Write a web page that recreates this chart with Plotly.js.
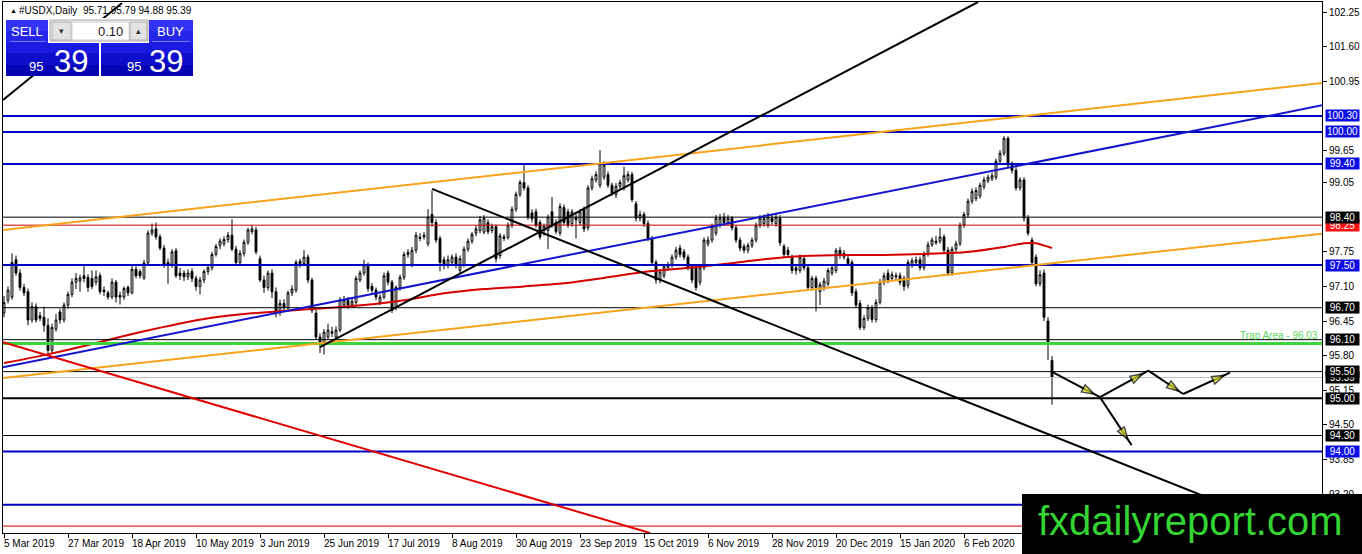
<!DOCTYPE html>
<html>
<head>
<meta charset="utf-8">
<script src="https://cdn.plot.ly/plotly-3.0.1.min.js"></script>
<style>
  html, body { margin: 0; padding: 0; background: #fff; }
  #chart { width: 1362px; height: 554px; }
</style>
</head>
<body>
<div id="chart"></div>
<script>
// #USDX daily candles, 5 Mar 2019 .. 9 Mar 2020 (bar index = position on x)
const opens = [
  96.60, 96.84, 96.90, 97.60, 97.35, 97.08, 97.00, 96.47, 96.72, 96.55,
  96.52, 96.37, 95.90, 96.30, 96.62, 96.47, 96.75, 96.95, 97.18, 97.20,
  97.30, 97.27, 97.25, 97.18, 97.30, 97.03, 96.98, 96.90, 97.18, 96.93,
  96.90, 97.08, 96.98, 97.42, 97.38, 97.26, 97.54, 98.10, 98.18, 98.03,
  97.82, 97.55, 97.50, 97.77, 97.35, 97.35, 97.28, 97.38, 97.25, 97.10,
  97.22, 97.38, 97.45, 97.70, 97.87, 97.90, 97.98, 98.06, 97.80, 97.55,
  97.72, 97.93, 98.13, 98.16, 97.62, 97.22, 97.08, 97.35, 97.00, 96.63,
  96.78, 96.70, 96.98, 97.03, 97.57, 97.53, 97.65, 97.22, 96.60, 96.15,
  96.05, 96.15, 96.25, 96.15, 96.28, 96.75, 96.84, 96.75, 96.80, 97.22,
  97.35, 97.50, 97.10, 97.03, 96.80, 96.90, 97.35, 97.18, 96.70, 97.08,
  97.27, 97.70, 97.50, 97.78, 98.00, 98.03, 97.90, 98.45, 98.30, 98.00,
  97.60, 97.50, 97.55, 97.65, 97.40, 97.50, 97.80, 97.95, 98.10, 98.15,
  98.12, 98.30, 98.15, 98.22, 97.68, 98.00, 98.02, 98.25, 98.55, 98.83,
  99.05, 98.95, 98.48, 98.50, 98.30, 98.15, 98.15, 98.50, 98.30, 98.10,
  98.58, 98.50, 98.28, 98.40, 98.30, 98.55, 98.20, 98.95, 99.10, 99.00,
  99.15, 99.20, 99.00, 98.82, 98.98, 98.95, 99.10, 99.20, 98.65, 98.38,
  98.45, 98.28, 98.00, 97.55, 97.22, 97.30, 97.45, 97.50, 97.65, 97.82,
  97.75, 97.65, 97.47, 97.45, 97.18, 97.45, 97.90, 97.97, 98.10, 98.25,
  98.40, 98.30, 98.38, 98.20, 97.97, 97.85, 97.78, 97.87, 97.97, 98.25,
  98.28, 98.25, 98.38, 98.28, 98.38, 97.85, 97.78, 97.65, 97.45, 97.40,
  97.62, 97.45, 97.08, 97.25, 97.00, 97.08, 97.15, 97.35, 97.40, 97.78,
  97.65, 97.62, 97.55, 97.00, 96.78, 96.33, 96.50, 96.70, 96.48, 96.80,
  97.18, 97.35, 97.25, 97.28, 97.30, 97.25, 97.12, 97.50, 97.55, 97.60,
  97.45, 97.72, 97.88, 97.92, 97.95, 98.03, 97.78, 97.35, 97.80, 97.90,
  98.25, 98.45, 98.70, 98.75, 98.80, 98.97, 99.08, 99.12, 99.15, 99.45,
  99.60, 99.88, 99.40, 99.28, 98.95, 99.10, 98.38, 97.97, 97.65, 97.15,
  97.35, 96.45, 95.71
];
const highs = [
  96.92, 97.10, 97.72, 97.68, 97.42, 97.15, 97.06, 96.80, 96.78, 96.62,
  96.72, 96.50, 96.40, 96.58, 96.68, 96.80, 97.00, 97.25, 97.35, 97.32,
  97.50, 97.33, 97.40, 97.40, 97.36, 97.10, 97.02, 97.25, 97.22, 97.00,
  97.10, 97.12, 97.48, 97.48, 97.42, 97.60, 98.15, 98.28, 98.30, 98.08,
  97.88, 97.62, 97.80, 97.82, 97.45, 97.40, 97.42, 97.44, 97.30, 97.28,
  97.42, 97.50, 97.75, 97.90, 98.00, 98.04, 98.12, 98.36, 97.86, 97.78,
  97.98, 98.20, 98.25, 98.22, 97.68, 97.30, 97.40, 97.42, 97.08, 96.85,
  96.86, 97.02, 97.12, 97.60, 97.62, 97.78, 97.70, 97.26, 96.66, 96.22,
  96.30, 96.40, 96.34, 96.35, 96.90, 96.92, 96.90, 96.88, 97.30, 97.40,
  97.60, 97.55, 97.16, 97.08, 96.95, 97.36, 97.40, 97.22, 97.12, 97.32,
  97.75, 97.80, 97.84, 98.12, 98.10, 98.12, 98.55, 98.90, 98.36, 98.05,
  97.66, 97.68, 97.70, 97.72, 97.68, 97.85, 98.00, 98.12, 98.24, 98.42,
  98.44, 98.36, 98.28, 98.26, 98.10, 98.08, 98.30, 98.60, 98.88, 99.10,
  99.38, 99.00, 98.55, 98.56, 98.35, 98.28, 98.45, 98.78, 98.36, 98.66,
  98.64, 98.56, 98.55, 98.46, 98.55, 98.60, 99.00, 99.18, 99.26, 99.66,
  99.45, 99.26, 99.05, 99.04, 99.10, 99.35, 99.26, 99.25, 98.70, 98.52,
  98.50, 98.34, 98.05, 97.60, 97.42, 97.52, 97.56, 97.70, 97.84, 97.88,
  97.80, 97.70, 97.52, 97.50, 97.50, 98.02, 98.04, 98.28, 98.44, 98.46,
  98.48, 98.44, 98.42, 98.25, 98.02, 97.90, 97.92, 98.02, 98.30, 98.44,
  98.45, 98.48, 98.44, 98.48, 98.44, 97.90, 97.84, 97.70, 97.50, 97.70,
  97.68, 97.50, 97.30, 97.30, 97.18, 97.26, 97.45, 97.50, 97.82, 97.84,
  97.78, 97.68, 97.60, 97.06, 96.84, 96.56, 96.76, 96.75, 96.86, 97.24,
  97.36, 97.42, 97.38, 97.36, 97.36, 97.30, 97.60, 97.64, 97.66, 97.66,
  97.76, 97.94, 98.02, 98.05, 98.20, 98.08, 97.84, 97.85, 97.96, 98.30,
  98.50, 98.75, 98.94, 98.96, 99.05, 99.16, 99.20, 99.24, 99.50, 99.66,
  99.92, 99.92, 99.45, 99.34, 99.15, 99.15, 98.44, 98.02, 97.70, 97.40,
  97.42, 96.52, 95.79
];
const lows = [
  96.52, 96.78, 96.85, 97.30, 97.02, 96.92, 96.37, 96.42, 96.42, 96.45,
  96.25, 95.80, 95.85, 96.25, 96.40, 96.42, 96.68, 96.90, 97.05, 97.00,
  97.18, 97.00, 97.05, 97.12, 96.95, 96.92, 96.85, 96.86, 96.80, 96.76,
  96.85, 96.92, 96.95, 97.25, 97.25, 97.22, 97.50, 98.05, 97.98, 97.78,
  97.45, 97.15, 97.45, 97.26, 97.22, 97.20, 97.22, 97.18, 97.02, 96.95,
  97.16, 97.32, 97.40, 97.66, 97.80, 97.85, 97.92, 97.76, 97.50, 97.50,
  97.66, 97.88, 98.08, 97.70, 97.18, 96.98, 97.02, 96.88, 96.52, 96.55,
  96.62, 96.65, 96.92, 96.98, 97.45, 97.48, 97.16, 96.60, 96.10, 95.85,
  95.82, 96.10, 96.15, 96.10, 96.24, 96.70, 96.68, 96.70, 96.76, 97.18,
  97.30, 97.00, 96.98, 96.84, 96.75, 96.86, 97.12, 96.60, 96.65, 97.02,
  97.22, 97.64, 97.46, 97.72, 97.95, 97.98, 97.85, 98.22, 97.92, 97.38,
  97.42, 97.44, 97.50, 97.44, 97.35, 97.46, 97.75, 97.90, 98.04, 98.10,
  98.08, 98.08, 98.10, 97.55, 97.62, 97.95, 97.98, 98.20, 98.50, 98.78,
  98.90, 98.35, 98.30, 98.20, 97.98, 98.05, 97.80, 98.20, 98.08, 98.05,
  98.25, 98.20, 98.22, 98.00, 98.25, 98.12, 98.15, 98.90, 99.05, 98.95,
  99.10, 98.95, 98.80, 98.76, 98.92, 98.90, 99.05, 98.68, 98.32, 98.32,
  98.22, 97.95, 97.50, 97.15, 97.16, 97.25, 97.40, 97.45, 97.60, 97.64,
  97.60, 97.40, 97.16, 97.02, 97.12, 97.40, 97.85, 97.92, 98.05, 98.20,
  98.24, 98.25, 98.15, 97.92, 97.76, 97.72, 97.72, 97.82, 97.92, 98.20,
  98.22, 98.20, 98.26, 98.22, 97.86, 97.65, 97.64, 97.34, 97.32, 97.35,
  97.40, 97.02, 97.02, 96.63, 96.75, 97.02, 97.10, 97.30, 97.35, 97.62,
  97.60, 97.48, 96.92, 96.70, 96.28, 96.28, 96.45, 96.42, 96.42, 96.76,
  97.12, 97.16, 97.20, 97.22, 97.12, 97.02, 97.06, 97.45, 97.50, 97.40,
  97.40, 97.66, 97.84, 97.88, 97.90, 97.72, 97.30, 97.30, 97.75, 97.86,
  98.20, 98.40, 98.65, 98.70, 98.75, 98.92, 99.04, 99.08, 99.10, 99.40,
  99.55, 99.32, 99.22, 98.90, 98.90, 98.32, 98.05, 97.50, 97.10, 97.10,
  96.45, 95.72, 94.88
];
const closes = [
  96.80, 97.03, 97.55, 97.35, 97.08, 96.98, 96.47, 96.72, 96.47, 96.50,
  96.37, 95.90, 96.33, 96.47, 96.47, 96.75, 96.95, 97.18, 97.25, 97.26,
  97.25, 97.08, 97.10, 97.28, 97.00, 97.00, 96.90, 97.18, 96.90, 96.90,
  97.06, 96.98, 97.42, 97.30, 97.30, 97.54, 98.10, 98.16, 98.03, 97.82,
  97.50, 97.50, 97.75, 97.30, 97.30, 97.28, 97.35, 97.25, 97.10, 97.22,
  97.38, 97.45, 97.70, 97.85, 97.95, 97.98, 98.06, 97.80, 97.55, 97.72,
  97.93, 98.16, 98.18, 97.75, 97.22, 97.08, 97.35, 97.00, 96.60, 96.78,
  96.70, 96.98, 97.05, 97.55, 97.53, 97.65, 97.22, 96.65, 96.15, 96.05,
  96.24, 96.28, 96.22, 96.28, 96.84, 96.84, 96.75, 96.82, 97.25, 97.35,
  97.50, 97.06, 97.03, 96.90, 96.90, 97.30, 97.18, 96.65, 97.08, 97.27,
  97.70, 97.74, 97.78, 98.06, 98.02, 98.06, 98.40, 98.30, 97.97, 97.55,
  97.50, 97.60, 97.65, 97.50, 97.62, 97.80, 97.95, 98.08, 98.18, 98.35,
  98.38, 98.13, 98.22, 97.62, 98.05, 98.03, 98.25, 98.55, 98.83, 99.05,
  98.95, 98.40, 98.37, 98.25, 98.03, 98.23, 98.40, 98.25, 98.13, 98.60,
  98.30, 98.25, 98.50, 98.35, 98.50, 98.18, 98.95, 99.12, 99.20, 99.40,
  99.38, 99.00, 98.85, 98.98, 99.05, 99.18, 99.20, 98.73, 98.38, 98.45,
  98.28, 98.00, 97.55, 97.22, 97.37, 97.47, 97.50, 97.65, 97.78, 97.70,
  97.65, 97.45, 97.22, 97.08, 97.45, 97.97, 97.97, 98.22, 98.38, 98.38,
  98.30, 98.38, 98.20, 97.97, 97.82, 97.78, 97.87, 97.97, 98.25, 98.38,
  98.38, 98.40, 98.32, 98.40, 97.92, 97.70, 97.70, 97.40, 97.40, 97.65,
  97.45, 97.08, 97.25, 97.08, 97.13, 97.20, 97.40, 97.45, 97.77, 97.68,
  97.72, 97.53, 96.98, 96.75, 96.33, 96.50, 96.70, 96.48, 96.80, 97.18,
  97.30, 97.22, 97.32, 97.30, 97.18, 97.10, 97.55, 97.58, 97.60, 97.45,
  97.70, 97.88, 97.97, 97.95, 98.03, 97.78, 97.35, 97.80, 97.90, 98.25,
  98.45, 98.70, 98.88, 98.90, 99.00, 99.10, 99.15, 99.18, 99.45, 99.60,
  99.88, 99.38, 99.28, 98.95, 99.10, 98.38, 98.10, 97.55, 97.15, 97.32,
  96.52, 96.05, 95.39
];

// red moving average, sampled at these bars
const maBars = [0, 10, 20, 30, 40, 50, 60, 70, 80, 90, 100, 110, 120, 130, 140,
                150, 160, 170, 180, 190, 200, 210, 220, 230, 240, 250, 255, 258, 262];
const maVals = [95.66, 95.81, 95.98, 96.17, 96.34, 96.49, 96.58, 96.64, 96.69, 96.75,
                96.84, 96.97, 97.05, 97.10, 97.16, 97.26, 97.37, 97.44, 97.52, 97.61,
                97.67, 97.69, 97.69, 97.71, 97.74, 97.84, 97.91, 97.91, 97.82];

// x-axis date labels, one every 16 bars
const tickBars = [0, 16, 32, 48, 64, 80, 96, 112, 128, 144, 160, 176, 192, 208, 224, 240];
const tickDates = ["5 Mar 2019", "27 Mar 2019", "18 Apr 2019", "10 May 2019", "3 Jun 2019",
                   "25 Jun 2019", "17 Jul 2019", "8 Aug 2019", "30 Aug 2019", "23 Sep 2019",
                   "15 Oct 2019", "6 Nov 2019", "28 Nov 2019", "20 Dec 2019", "15 Jan 2020",
                   "6 Feb 2020"];

// price scale labels
const yTicks = [102.25, 101.60, 100.95, 99.65, 99.05, 97.75, 97.10, 96.45, 95.80, 95.15, 94.50, 93.85, 93.20];
const yTickText = ["102.25", "101.60", "100.95", "99.65", "99.05", "97.75", "97.10", "96.45",
                   "95.80", "95.15", "94.50", "93.85", "93.20"];

// horizontal levels
const levelPrices = [100.30, 100.00, 99.40, 98.40, 98.25, 97.50, 96.70, 96.10, 96.03,
                     95.50, 95.39, 95.00, 94.30, 94.00, 93.00, 92.60];
const levelKinds  = ["blue", "blue", "blue", "black", "red", "blue", "black", "black", "green",
                     "black", "bid", "thick", "black", "blue", "blue", "red"];

// tagged levels on the price scale (drawn in this order)
const tagPrices = [100.30, 100.00, 99.40, 98.25, 98.40, 97.50, 96.70, 96.10, 95.39, 95.50, 95.00, 94.30, 94.00];
const tagKinds  = ["blue", "blue", "blue", "red", "black", "blue", "black", "black", "black",
                   "black", "black", "black", "blue"];

const trapPrice = 96.03;

// trendlines: [bar0, bar1], [price0, price1]
const orangeUpX = [-0.25, 329.5],  orangeUpY = [98.16, 100.92];
const orangeLowX = [-0.25, 329.5], orangeLowY = [95.38, 98.09];
const blueTrendX = [-0.25, 329.5], blueTrendY = [95.58, 100.50];
const blackShortX = [-0.25, 29.5], blackShortY = [100.60, 102.42];
const blackRiseX = [79, 243.5],    blackRiseY = [95.96, 102.44];
const blackFallX = [107, 329.5],   blackFallY = [98.93, 92.28];
const redFallX = [-0.25, 161.5],   redFallY = [96.05, 92.47];

// projected path arrows
const pathBars   = [261.9, 274.0, 286.1, 294.8, 306.5, 281.9];
const pathPrices = [95.50, 95.02, 95.52, 95.08, 95.48, 94.12];
const pathLegs   = [[0, 1], [1, 2], [2, 3], [3, 4], [1, 5]];
const HEAD_AT = 0.88;   // arrowhead tip sits a little before the leg end

const FONT = "Liberation Sans, Arial, sans-serif";
const KIND_STYLE = {
    blue:  { color: "#0000c0", width: 2 },
    black: { color: "#000000", width: 1 },
    thick: { color: "#000000", width: 2 },
    red:   { color: "#c80000", width: 1 },
    green: { color: "#3ad63a", width: 3 },
    bid:   { color: "#c0c0c0", width: 1 },
};
const TAG_BG = { blue: "#0c0ce6", black: "#000000", red: "#ff1010" };

// pixel -> paper helpers for the plot box (x 3..1322, y 2..533)
const px = x => (x - 3) / 1319;
const py = y => (533 - y) / 531;

const traces = [];

traces.push({
    type: "candlestick",
    x: opens.map((_, i) => i),
    open: opens, high: highs, low: lows, close: closes,
    increasing: { line: { color: "#000", width: 1 }, fillcolor: "#ffffff" },
    decreasing: { line: { color: "#000", width: 1 }, fillcolor: "#000000" },
    whiskerwidth: 0,
    hoverinfo: "skip",
});

traces.push({
    type: "scatter", mode: "lines", x: maBars, y: maVals,
    line: { color: "#d40000", width: 2, shape: "spline", smoothing: 0.6 },
    hoverinfo: "skip",
});

levelPrices.forEach((p, i) => {
    const st = KIND_STYLE[levelKinds[i]];
    traces.push({
        type: "scatter", mode: "lines", x: [-1, 331], y: [p, p],
        line: { color: st.color, width: st.width }, hoverinfo: "skip",
    });
});

function seg(x, y, color, width) {
    traces.push({ type: "scatter", mode: "lines", x: x, y: y,
                  line: { color: color, width: width }, hoverinfo: "skip" });
}
seg(orangeUpX, orangeUpY, "#f5a41c", 2);
seg(orangeLowX, orangeLowY, "#f5a41c", 2);
seg(blueTrendX, blueTrendY, "#1414cc", 2);
seg(redFallX, redFallY, "#e00000", 2);
seg(blackShortX, blackShortY, "#000", 2);
seg(blackRiseX, blackRiseY, "#000", 2);
seg(blackFallX, blackFallY, "#000", 2);

pathLegs.forEach(([a, b]) => {
    const hx = pathBars[a] + (pathBars[b] - pathBars[a]) * HEAD_AT;
    const hy = pathPrices[a] + (pathPrices[b] - pathPrices[a]) * HEAD_AT;
    traces.push({
        type: "scatter", mode: "lines+markers",
        x: [pathBars[a], hx, pathBars[b]], y: [pathPrices[a], hy, pathPrices[b]],
        line: { color: "#000", width: 2, backoff: 0 },
        marker: { symbol: "arrow", angleref: "previous", size: [0, 13, 0],
                  color: "#e2e21e", line: { color: "#000", width: 1.5 } },
        hoverinfo: "skip",
    });
});

// ---- overlay shapes (trade panel, watermark)
function rect(x0, y0, x1, y1, fill, line) {
    return { type: "rect", xref: "paper", yref: "paper", layer: "above",
             x0: px(x0), x1: px(x1), y0: py(y1), y1: py(y0),
             fillcolor: fill, line: { color: line || fill, width: line ? 1 : 0 } };
}
const shapes = [
    rect(6, 20, 99, 31, "#3434f4"), rect(6, 31, 99, 42, "#2626ea"),
    rect(6, 42, 99, 53, "#1a1ae0"), rect(6, 53, 99, 65, "#0e0ecc"), rect(6, 65, 99, 76, "#0404b2"),
    rect(101, 20, 193, 31, "#3434f4"), rect(101, 31, 193, 42, "#2626ea"),
    rect(101, 42, 193, 53, "#1a1ae0"), rect(101, 53, 193, 65, "#0e0ecc"), rect(101, 65, 193, 76, "#0404b2"),
    rect(48, 18, 149, 43, "#ffffff"),
    rect(50, 20, 148, 41, "#f0f0f0", "#a8a8a8"),
    rect(52, 22, 71, 40, "#e2e2e2", "#b0b0b0"),
    rect(72, 22, 129, 40, "#ffffff", "#d0d0d0"),
    rect(130, 22, 147, 40, "#e2e2e2", "#b0b0b0"),
    { type: "line", xref: "paper", yref: "paper", layer: "above",
      x0: px(10), x1: px(46), y0: py(41.5), y1: py(41.5), line: { color: "#7a7aff", width: 1 } },
    { type: "line", xref: "paper", yref: "paper", layer: "above",
      x0: px(152), x1: px(190), y0: py(41.5), y1: py(41.5), line: { color: "#7a7aff", width: 1 } },
    rect(1022, 494, 1362, 554, "#000000"),
];

const annotations = [];
function txt(x, y, text, size, color, anchor, extra) {
    annotations.push(Object.assign({
        xref: "paper", yref: "paper", x: px(x), y: py(y), text: text, showarrow: false,
        xanchor: anchor || "center", yanchor: "middle",
        font: { family: FONT, size: size, color: color },
    }, extra || {}));
}

const last = closes.length - 1;
txt(8, 11, "▲", 7, "#000", "left");
txt(17, 11, "#USDX,Daily  " + [opens[last], highs[last], lows[last], closes[last]]
    .map(v => v.toFixed(2)).join(" "), 10, "#000", "left");

txt(27, 31, "SELL", 13, "#fff");
txt(170, 31, "BUY", 13, "#fff");
txt(125, 31, "0.10", 13, "#1a1a1a", "right");
txt(61.5, 31, "▾", 9, "#333");
txt(138.5, 31, "▴", 9, "#333");
const pip = closes[last].toFixed(2).split(".");
txt(45, 66, pip[0], 13, "#fff", "right");
txt(52, 62, pip[1], 31, "#fff", "left");
txt(143, 66, pip[0], 13, "#fff", "right");
txt(147, 62, pip[1], 31, "#fff", "left");

tickBars.forEach((b, i) => {
    annotations.push({
        xref: "x", yref: "paper", x: b, y: 0, yshift: -3, xshift: -2,
        xanchor: "left", yanchor: "top", showarrow: false, text: tickDates[i],
        font: { family: FONT, size: 10, color: "#000" },
    });
});

annotations.push({
    xref: "paper", yref: "y", x: 1, xshift: -2, y: trapPrice, yanchor: "bottom",
    xanchor: "right", showarrow: false, text: "Trap Area - " + trapPrice.toFixed(2),
    font: { family: FONT, size: 10, color: "#5ad85a" },
});

tagPrices.forEach((p, i) => {
    annotations.push({
        xref: "paper", yref: "y", x: 1, xshift: 3, y: p, xanchor: "left", yanchor: "middle",
        showarrow: false, text: p.toFixed(2), bgcolor: TAG_BG[tagKinds[i]],
        width: 33, height: 11, borderpad: 0, align: "center",
        font: { family: FONT, size: 10, color: "#fff" },
    });
});

txt(1190, 521, "fxdailyreport.com", 40, "#33d433");

const layout = {
    width: 1362, height: 554,
    margin: { l: 3, r: 40, t: 2, b: 21, pad: 0 },
    paper_bgcolor: "#ffffff", plot_bgcolor: "#ffffff",
    showlegend: false,
    boxgap: 0.35,
    font: { family: FONT, size: 10, color: "#000" },
    xaxis: {
        type: "linear", range: [-0.25, 329.5],
        showgrid: false, zeroline: false,
        showline: true, mirror: true, linecolor: "#000", linewidth: 1,
        ticks: "outside", ticklen: 4, tickcolor: "#000",
        tickvals: tickBars, showticklabels: false,
        rangeslider: { visible: false }, fixedrange: true,
    },
    yaxis: {
        side: "right", range: [92.47, 102.44],
        showgrid: false, zeroline: false,
        showline: true, mirror: true, linecolor: "#000", linewidth: 1,
        ticks: "outside", ticklen: 4, tickcolor: "#000",
        tickvals: yTicks, ticktext: yTickText,
        tickfont: { family: FONT, size: 10, color: "#000" },
        fixedrange: true,
    },
    shapes: shapes,
    annotations: annotations,
};

Plotly.newPlot("chart", traces, layout, { displayModeBar: false, staticPlot: true });
</script>
</body>
</html>
